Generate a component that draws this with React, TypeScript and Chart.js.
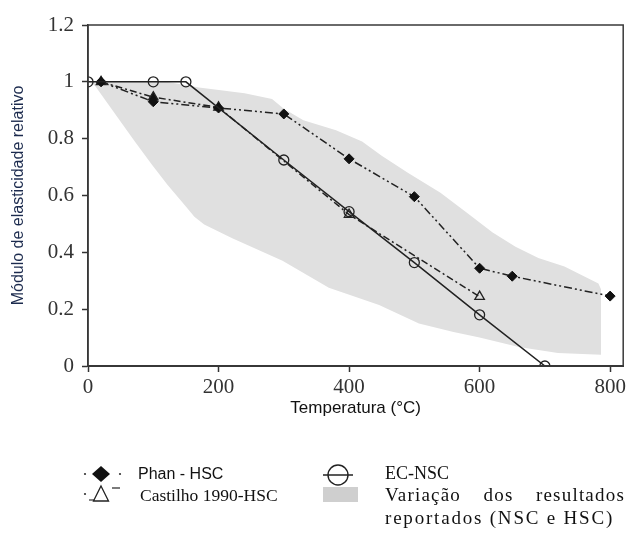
import React, { useEffect, useRef } from "react";
import { Chart, registerables } from "chart.js";

Chart.register(...registerables);

// ---- data ----
const phanX = [20, 100, 200, 300, 400, 500, 600, 650, 800];
const phanY = [1.0, 0.93, 0.908, 0.887, 0.729, 0.596, 0.344, 0.316, 0.246];

const castX = [20, 100, 200, 400, 600];
const castY = [1.0, 0.946, 0.91, 0.533, 0.244];

const ecX = [0, 100, 150, 300, 400, 500, 600, 700];
const ecY = [1.0, 1.0, 1.0, 0.725, 0.543, 0.364, 0.18, 0.0];

const bandUpperX = [0, 120, 170, 240, 282, 300, 330, 380, 420, 450, 490, 540, 580, 620, 655, 690, 730, 782, 786];
const bandUpperY = [1.0, 1.0, 0.98, 0.96, 0.94, 0.905, 0.865, 0.83, 0.79, 0.74, 0.68, 0.61, 0.54, 0.47, 0.42, 0.38, 0.35, 0.29, 0.27];

const bandLowerX = [0, 11, 46, 72, 98, 122, 148, 163, 178, 221, 298, 369, 446, 507, 560, 600, 660, 720, 786];
const bandLowerY = [1.0, 0.985, 0.873, 0.789, 0.708, 0.637, 0.567, 0.525, 0.498, 0.45, 0.37, 0.275, 0.215, 0.15, 0.12, 0.1, 0.067, 0.046, 0.04];

const xTicks = [0, 200, 400, 600, 800];
const yTicks = [0, 0.2, 0.4, 0.6, 0.8, 1, 1.2];

const xTitle = "Temperatura (°C)";
const yTitle = "Módulo de elasticidade relativo";

const pts = (xs: number[], ys: number[]) => xs.map((x, i) => ({ x, y: ys[i] }));

const framePlugin = {
  id: "frame",
  afterDatasetsDraw(chart: any) {
    const { ctx, chartArea: a } = chart;
    ctx.save();
    ctx.strokeStyle = "#3a3a3a";
    ctx.lineWidth = 1.5;
    ctx.beginPath();
    ctx.moveTo(a.left, a.bottom);
    ctx.lineTo(a.left, a.top);
    ctx.lineTo(a.right, a.top);
    ctx.lineTo(a.right, a.bottom);
    ctx.closePath();
    ctx.stroke();
    ctx.restore();
  },
};

export default function App() {
  const ref = useRef<HTMLCanvasElement>(null);

  useEffect(() => {
    if (!ref.current) return;
    const tickFont = { family: "'Liberation Serif', 'Times New Roman', serif", size: 21 };
    const chart = new Chart(ref.current, {
      type: "line",
      data: {
        datasets: [
          {
            label: "EC-NSC",
            data: pts(ecX, ecY),
            borderColor: "#222",
            borderWidth: 1.5,
            pointStyle: "circle",
            pointRadius: 5,
            pointBorderWidth: 1.3,
            pointBorderColor: "#222",
            pointBackgroundColor: "rgba(0,0,0,0)",
            fill: false,
            tension: 0,
          },
          {
            label: "Phan - HSC",
            data: pts(phanX, phanY),
            borderColor: "#222",
            borderWidth: 1.5,
            borderDash: [8, 3, 2, 3, 2, 3],
            pointStyle: "rectRot",
            pointRadius: 5,
            pointBorderWidth: 1,
            pointBorderColor: "#111",
            pointBackgroundColor: "#111",
            fill: false,
            tension: 0,
          },
          {
            label: "Castilho 1990-HSC",
            data: pts(castX, castY),
            borderColor: "#222",
            borderWidth: 1.5,
            borderDash: [7, 3, 2, 3],
            pointStyle: "triangle",
            pointRadius: 5.5,
            pointBorderWidth: 1.3,
            pointBorderColor: "#222",
            pointBackgroundColor: ["#111", "#111", "#111", "rgba(0,0,0,0)", "rgba(0,0,0,0)"],
            fill: false,
            tension: 0,
          },
          {
            label: "band-upper",
            data: pts(bandUpperX, bandUpperY),
            borderWidth: 0,
            borderColor: "rgba(0,0,0,0)",
            pointRadius: 0,
            backgroundColor: "#e0e0e0",
            fill: "+1",
            tension: 0,
          },
          {
            label: "band-lower",
            data: pts(bandLowerX, bandLowerY),
            borderWidth: 0,
            borderColor: "rgba(0,0,0,0)",
            pointRadius: 0,
            fill: false,
            tension: 0,
          },
        ],
      },
      options: {
        animation: false,
        responsive: false,
        maintainAspectRatio: false,
        layout: { padding: { left: 0, top: 25, right: 4, bottom: 6 } },
        plugins: {
          legend: { display: false },
          tooltip: { enabled: false },
          filler: { drawTime: "beforeDatasetsDraw" },
        } as any,
        scales: {
          x: {
            type: "linear",
            min: 0,
            max: 820,
            afterFit: (s: any) => {
              s.height = 425 - 6 - 366;
            },
            afterBuildTicks: (s: any) => {
              s.ticks = xTicks.map((v) => ({ value: v }));
            },
            ticks: {
              font: tickFont,
              color: "#333",
              padding: 3,
              maxRotation: 0,
              autoSkip: false,
              callback: (v: any) => String(v),
            },
            grid: {
              display: true,
              drawOnChartArea: false,
              drawTicks: true,
              tickLength: 6,
              tickWidth: 1.5,
              tickColor: "#333",
            },
            border: { display: true, color: "#333", width: 2 },
            title: {
              display: true,
              text: xTitle,
              color: "#111",
              font: { family: "'Liberation Sans', Arial, sans-serif", size: 17 },
              padding: { top: 0, bottom: 0 },
            },
          },
          y: {
            type: "linear",
            min: 0,
            max: 1.2,
            afterFit: (s: any) => {
              s.width = 88;
            },
            afterBuildTicks: (s: any) => {
              s.ticks = yTicks.map((v) => ({ value: v }));
            },
            ticks: {
              font: tickFont,
              color: "#333",
              padding: 8,
              autoSkip: false,
              callback: (v: any) => String(Math.round(v * 10) / 10),
            },
            grid: {
              display: true,
              drawOnChartArea: false,
              drawTicks: true,
              tickLength: 6,
              tickWidth: 1.5,
              tickColor: "#333",
            },
            border: { display: true, color: "#333", width: 1.5 },
            title: {
              display: true,
              text: yTitle,
              color: "#1c2b4e",
              font: { family: "'Liberation Sans', Arial, sans-serif", size: 16 },
              padding: { top: 9, bottom: 0 },
            },
          },
        },
      },
      plugins: [framePlugin],
    });
    return () => chart.destroy();
  }, []);

  const serif = "'Liberation Serif', 'Times New Roman', serif";
  const sans = "'Liberation Sans', Arial, sans-serif";

  return (
    <div style={{ position: "absolute", left: 0, top: 0, width: 630, height: 536, background: "#fff", overflow: "hidden" }}>
      <canvas ref={ref} width={630} height={425} style={{ position: "absolute", left: 0, top: 0, width: 630, height: 425 }} />
      <svg width={630} height={536} style={{ position: "absolute", left: 0, top: 0, pointerEvents: "none" }}>
        {/* Phan symbol */}
        <circle cx={85} cy={474} r={1.1} fill="#333" />
        <polygon points="92,474 101,466 110,474 101,482" fill="#111" />
        <circle cx={120} cy={474} r={1.1} fill="#333" />
        {/* Castilho symbol */}
        <circle cx={85} cy={494} r={1.1} fill="#333" />
        <line x1={89} y1={500} x2={94} y2={500} stroke="#333" strokeWidth={1.2} />
        <polygon points="101,486 108.5,501 93.5,501" fill="none" stroke="#222" strokeWidth={1.3} />
        <line x1={112} y1={488} x2={120} y2={488} stroke="#333" strokeWidth={1.3} />
        {/* EC symbol */}
        <line x1={323} y1={475} x2={353} y2={475} stroke="#222" strokeWidth={1.5} />
        <circle cx={338} cy={475} r={10} fill="none" stroke="#222" strokeWidth={1.4} />
        {/* band symbol */}
        <rect x={323} y={487} width={35} height={15} fill="#cfcfcf" />
      </svg>
      <div style={{ position: "absolute", left: 138, top: 464, fontFamily: sans, fontSize: 16, lineHeight: "20px", color: "#111", whiteSpace: "nowrap" }}>
        Phan - HSC
      </div>
      <div style={{ position: "absolute", left: 140, top: 484, fontFamily: serif, fontSize: 17.5, lineHeight: "22px", color: "#111", whiteSpace: "nowrap" }}>
        Castilho 1990-HSC
      </div>
      <div style={{ position: "absolute", left: 385, top: 462, fontFamily: serif, fontSize: 18, lineHeight: "22px", color: "#111", whiteSpace: "nowrap" }}>
        EC-NSC
      </div>
      <div style={{ position: "absolute", left: 385, top: 483, width: 240, fontFamily: serif, fontSize: 19, lineHeight: "23px", color: "#111", letterSpacing: 1.2 }}>
        <div style={{ textAlign: "justify", textAlignLast: "justify", whiteSpace: "nowrap" } as any}>Variação dos resultados</div>
        <div style={{ whiteSpace: "nowrap", letterSpacing: 1.8 }}>reportados (NSC e HSC)</div>
      </div>
    </div>
  );
}
